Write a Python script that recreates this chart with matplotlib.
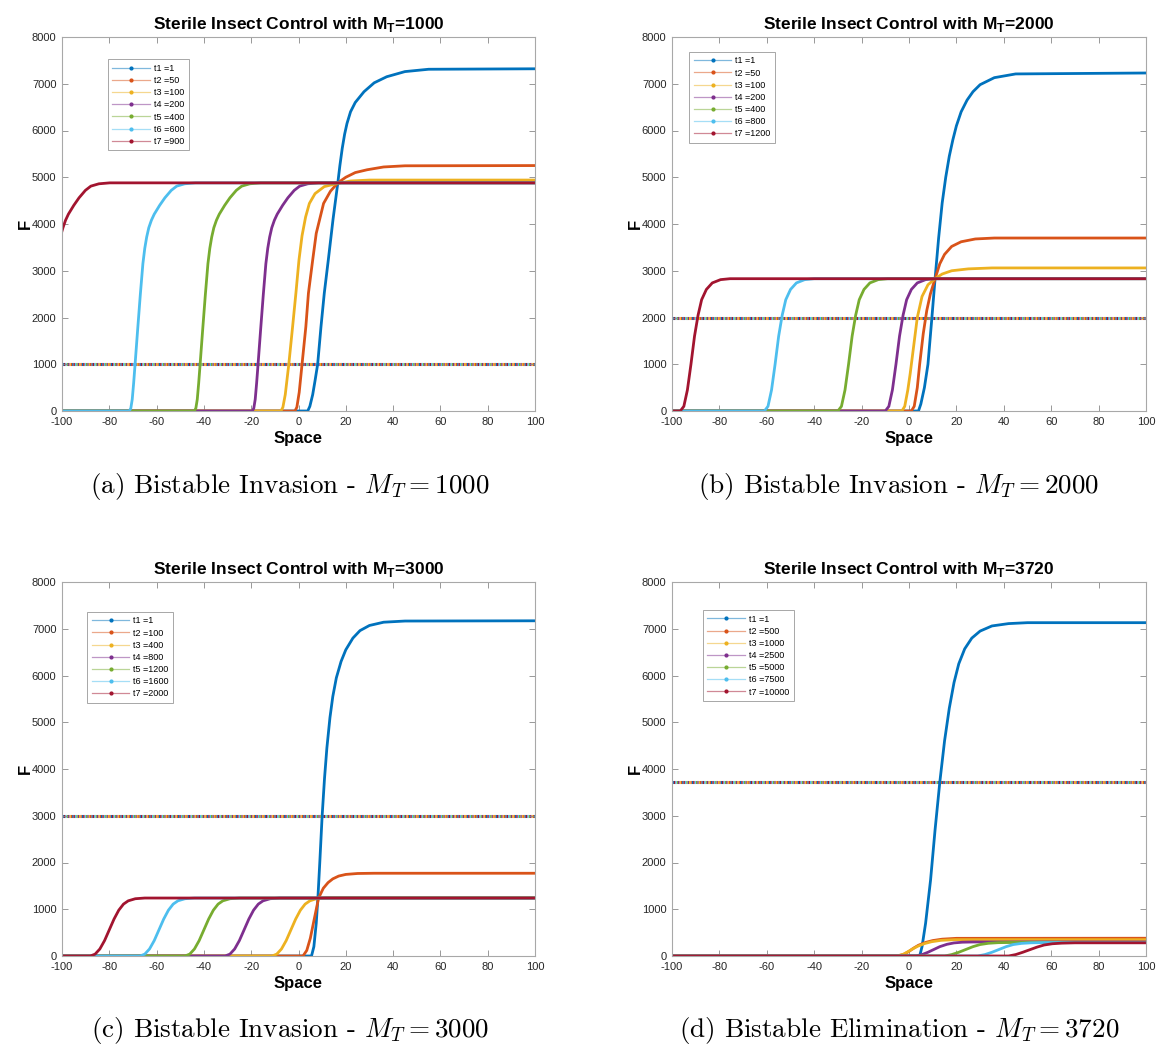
import matplotlib
matplotlib.use("Agg")
import matplotlib.pyplot as plt
from matplotlib.lines import Line2D
from matplotlib.colors import to_rgba

plt.rcParams['font.family'] = ['Liberation Sans', 'DejaVu Sans']
plt.rcParams['mathtext.fontset'] = 'custom'
plt.rcParams['mathtext.bf'] = 'Liberation Sans:bold'
plt.rcParams['mathtext.rm'] = 'Liberation Sans'
plt.rcParams['axes.unicode_minus'] = False

colors = ["#0072BD", "#D95319", "#EDB120", "#7E2F8E", "#77AC30", "#4DBEEE", "#A2142F"]

# ---- panel (a), M_T = 1000
MT_a = 1000
times_a = [1, 50, 100, 200, 400, 600, 900]
xa = [
    [-100, 3.9, 4.8, 6, 7, 8.1, 9.5, 10.9, 12.6, 14.6, 16.6, 17.5, 18.5, 19.5, 20.5, 22, 24, 27.7, 32, 37.3, 45, 55, 100],
    [-100, -1.5, -0.7, 0.3, 1.5, 3.1, 4.2, 6, 7.5, 10.6, 13.5, 16.6, 20, 24, 29, 36, 45, 100],
    [-100, -7.4, -6.6, -5.6, -4.1, -2.5, -1.1, 0.2, 1.5, 3, 4.6, 7, 10.9, 16.6, 22, 30, 100],
    [-100, -19.5, -18.9, -18.3, -17.7, -17.1, -16, -14.9, -13.8, -13, -12.2, -11.3, -10.2, -9, -6.7, -4.5, -1.8, 0.5, 3.9, 8.5, 100],
    [-100, -44, -43.4, -42.8, -42.2, -41.6, -40.5, -39.4, -38.3, -37.5, -36.7, -35.8, -34.7, -33.5, -31.2, -29, -26.3, -24, -20.6, -16, 100],
    [-100, -71.5, -70.9, -70.3, -69.7, -69.1, -68, -66.9, -65.8, -65, -64.2, -63.3, -62.2, -61, -58.7, -56.5, -53.8, -51.5, -48.1, -43.5, 100],
    [-100, -99.6, -98.5, -97.3, -95, -92.8, -90.1, -87.8, -84.4, -79.8, 100],
]
Fa = [
    [0, 0, 100, 350, 650, 1000, 1800, 2520, 3230, 4100, 4870, 5250, 5620, 5920, 6150, 6400, 6600, 6830, 7020, 7150, 7260, 7310, 7320],
    [0, 0, 80, 400, 1000, 1800, 2520, 3230, 3800, 4440, 4700, 4880, 5000, 5100, 5160, 5220, 5245, 5250],
    [0, 0, 80, 350, 1000, 1800, 2520, 3230, 3750, 4150, 4440, 4650, 4800, 4870, 4920, 4940, 4940],
    [0, 0, 60, 250, 600, 1000, 1750, 2480, 3150, 3480, 3720, 3920, 4080, 4210, 4400, 4560, 4720, 4810, 4860, 4880, 4880],
    [0, 0, 60, 250, 600, 1000, 1750, 2480, 3150, 3480, 3720, 3920, 4080, 4210, 4400, 4560, 4720, 4810, 4860, 4880, 4880],
    [0, 0, 60, 250, 600, 1000, 1750, 2480, 3150, 3480, 3720, 3920, 4080, 4210, 4400, 4560, 4720, 4810, 4860, 4880, 4880],
    [3850, 3920, 4080, 4210, 4400, 4560, 4720, 4810, 4860, 4880, 4880],
]

# ---- panel (b), M_T = 2000
MT_b = 2000
times_b = [1, 50, 100, 200, 400, 800, 1200]
xb = [
    [-100, 4, 5, 6.5, 8, 9.5, 11, 12.5, 14, 15.5, 17, 18.5, 20, 22, 24.5, 27, 30, 36, 45, 100],
    [-100, 1, 2.2, 3.5, 4.5, 6, 7.5, 9, 11, 13, 15, 18, 22, 28, 36, 100],
    [-100, -3, -1.8, -0.5, 0.5, 2, 3.5, 5.5, 8, 11, 14, 18, 25, 35, 100],
    [-100, -10, -8.5, -7, -5.5, -4, -2.5, -1, 1, 3.5, 7, 11, 100],
    [-100, -30, -28.5, -27, -25.5, -24, -22.5, -21, -19, -16.5, -13, -9, 100],
    [-100, -61, -59.5, -58, -56.5, -55, -53.5, -52, -50, -47.5, -44, -40, 100],
    [-100, -96.5, -95, -93.5, -92, -90.5, -89, -87.5, -85.5, -83, -79.5, -75.5, 100],
]
Fb = [
    [0, 0, 150, 500, 1000, 1900, 2830, 3700, 4450, 5000, 5450, 5800, 6100, 6400, 6650, 6830, 6980, 7130, 7210, 7230],
    [0, 0, 100, 500, 1000, 1650, 2150, 2500, 2830, 3150, 3350, 3520, 3620, 3680, 3700, 3700],
    [0, 0, 100, 450, 800, 1400, 2000, 2450, 2700, 2830, 2930, 3000, 3040, 3060, 3060],
    [0, 0, 100, 450, 1000, 1600, 2050, 2380, 2600, 2740, 2810, 2830, 2830],
    [0, 0, 100, 450, 1000, 1600, 2050, 2380, 2600, 2740, 2810, 2830, 2830],
    [0, 0, 100, 450, 1000, 1600, 2050, 2380, 2600, 2740, 2810, 2830, 2830],
    [0, 0, 100, 450, 1000, 1600, 2050, 2380, 2600, 2740, 2810, 2830, 2830],
]

# ---- panel (c), M_T = 3000
MT_c = 3000
times_c = [1, 100, 400, 800, 1200, 1600, 2000]
xc = [
    [-100, 5.5, 6.5, 7.5, 8.2, 9, 10, 11, 12, 13.3, 14.5, 16, 18, 20, 23, 26, 30, 36, 45, 100],
    [-100, 1.9, 3.5, 5, 6.5, 8.5, 10.5, 12.5, 14.5, 17, 20, 25, 32, 100],
    [-100, -11.2, -9.2, -7.2, -5.2, -3.2, -1.2, 0.8, 2.8, 4.8, 7.8, 11.8, 100],
    [-100, -31, -29, -27, -25, -23, -21, -19, -17, -15, -12, -8, 100],
    [-100, -48, -46, -44, -42, -40, -38, -36, -34, -32, -29, -25, 100],
    [-100, -67, -65, -63, -61, -59, -57, -55, -53, -51, -48, -44, 100],
    [-100, -88, -86, -84, -82, -80, -78, -76, -74, -72, -69, -65, 100],
]
Fc = [
    [0, 0, 200, 700, 1240, 2000, 3000, 3800, 4450, 5100, 5550, 5950, 6300, 6550, 6800, 6960, 7070, 7140, 7165, 7170],
    [0, 0, 120, 380, 750, 1240, 1450, 1570, 1650, 1710, 1745, 1765, 1770, 1770],
    [0, 0, 40, 150, 330, 560, 790, 980, 1110, 1180, 1230, 1250, 1250],
    [0, 0, 40, 150, 330, 560, 790, 980, 1110, 1180, 1225, 1240, 1240],
    [0, 0, 40, 150, 330, 560, 790, 980, 1110, 1180, 1225, 1240, 1240],
    [0, 0, 40, 150, 330, 560, 790, 980, 1110, 1180, 1225, 1240, 1240],
    [0, 0, 40, 150, 330, 560, 790, 980, 1110, 1180, 1225, 1240, 1240],
]

# ---- panel (d), M_T = 3720
MT_d = 3720
times_d = [1, 500, 1000, 2500, 5000, 7500, 10000]
xd = [
    [-100, 4.5, 5.5, 7, 9.1, 11, 13, 15, 17, 19, 21, 23.5, 26.5, 30, 35, 42, 50, 100],
    [-100, -4.6, -2, 0, 2, 4, 7, 10, 14, 20, 100],
    [-100, -5.2, -2.5, -0.5, 1.5, 3.5, 6.5, 9.5, 13.5, 19.5, 100],
    [-100, 3, 5.5, 8, 10.5, 13, 16, 19, 22.5, 27, 100],
    [-100, 15, 18, 21, 24, 27, 30, 33.5, 37.5, 43, 100],
    [-100, 29, 32, 35, 38, 41, 44, 47.5, 51.5, 57, 100],
    [-100, 42, 45, 48, 51, 54, 57, 60.5, 64.5, 70, 100],
]
Fd = [
    [0, 0, 200, 700, 1625, 2700, 3720, 4600, 5300, 5850, 6250, 6570, 6800, 6950, 7060, 7110, 7130, 7130],
    [0, 0, 40, 100, 170, 230, 290, 330, 360, 378, 380],
    [0, 0, 35, 90, 150, 205, 265, 305, 335, 350, 350],
    [0, 0, 30, 80, 140, 200, 250, 280, 295, 300, 300],
    [0, 0, 30, 80, 140, 200, 245, 272, 285, 290, 290],
    [0, 0, 30, 80, 140, 200, 245, 270, 282, 288, 288],
    [0, 0, 30, 80, 135, 190, 235, 262, 275, 282, 282],
]

panels = [
    ("a", "Bistable Invasion", MT_a, times_a, xa, Fa, [62, 37, 535, 411], (0.097, 0.94)),
    ("b", "Bistable Invasion", MT_b, times_b, xb, Fb, [672, 37, 1146, 411], (0.036, 0.96)),
    ("c", "Bistable Invasion", MT_c, times_c, xc, Fc, [62, 582, 535, 956], (0.053, 0.92)),
    ("d", "Bistable Elimination", MT_d, times_d, xd, Fd, [672, 582, 1146, 956], (0.065, 0.925)),
]

W, H = 1156, 1044
fig = plt.figure(figsize=(W / 100, H / 100), dpi=100)

for tag, kind, MT, times, xs, Fs, box, legpos in panels:
    l, t, r, b = box
    ax = fig.add_axes([l / W, 1 - b / H, (r - l) / W, (b - t) / H])

    # M_T line, drawn as fine overlapping coloured dots
    for i, c in enumerate(colors):
        ax.plot([-100, 100], [MT, MT], color=c, lw=2.2,
                linestyle=(i * 0.45, (0.45, 2.7)), zorder=1)

    for i in range(7):
        ax.plot(xs[i], Fs[i], color=colors[i], lw=2.0, zorder=2,
                solid_joinstyle='round')

    ax.set_xlim(-100, 100)
    ax.set_ylim(0, 8000)
    ax.set_xticks(range(-100, 101, 20))
    ax.set_yticks(range(0, 8001, 1000))
    ax.tick_params(direction='in', length=4, width=0.6, color='#888888',
                   labelsize=8, labelcolor='#262626', top=True, right=True)
    ax.tick_params(axis='x', pad=4)
    ax.tick_params(axis='y', pad=4)
    for s in ax.spines.values():
        s.set_color('#a8a8a8')
        s.set_linewidth(0.8)

    ax.set_xlabel("Space", fontsize=12, fontweight='bold', labelpad=3)
    ax.set_ylabel("F", fontsize=12, fontweight='bold', labelpad=-1)
    ax.set_title(r"Sterile Insect Control with M$_\mathbf{T}$=%d" % MT,
                 fontsize=12.5, fontweight='bold', pad=6)

    handles = []
    for i, c in enumerate(colors):
        handles.append(Line2D([], [], color=to_rgba(c, 0.5), lw=0.9, marker='.',
                              markersize=4, markerfacecolor=c, markeredgecolor=c))
    labels = ["t%d =%d" % (i + 1, tt) for i, tt in enumerate(times)]
    leg = ax.legend(handles, labels, loc='upper left', bbox_to_anchor=legpos,
                    fontsize=6.5, frameon=True, fancybox=False, framealpha=1,
                    edgecolor='#999999', handlelength=4.2, handletextpad=0.4,
                    labelspacing=0.35, borderpad=0.5, borderaxespad=0)
    leg.get_frame().set_linewidth(0.6)

    # caption under each panel
    cx = 290 if tag in "ac" else 899
    cy = 487 if tag in "ab" else 1030
    fig.text(cx / W, 1 - cy / H, "(%s) %s - $M_T = %d$" % (tag, kind, MT),
             ha='center', va='center', fontsize=19.5, family='cmr10',
             math_fontfamily='cm')

fig.savefig("out.png", dpi=100)
